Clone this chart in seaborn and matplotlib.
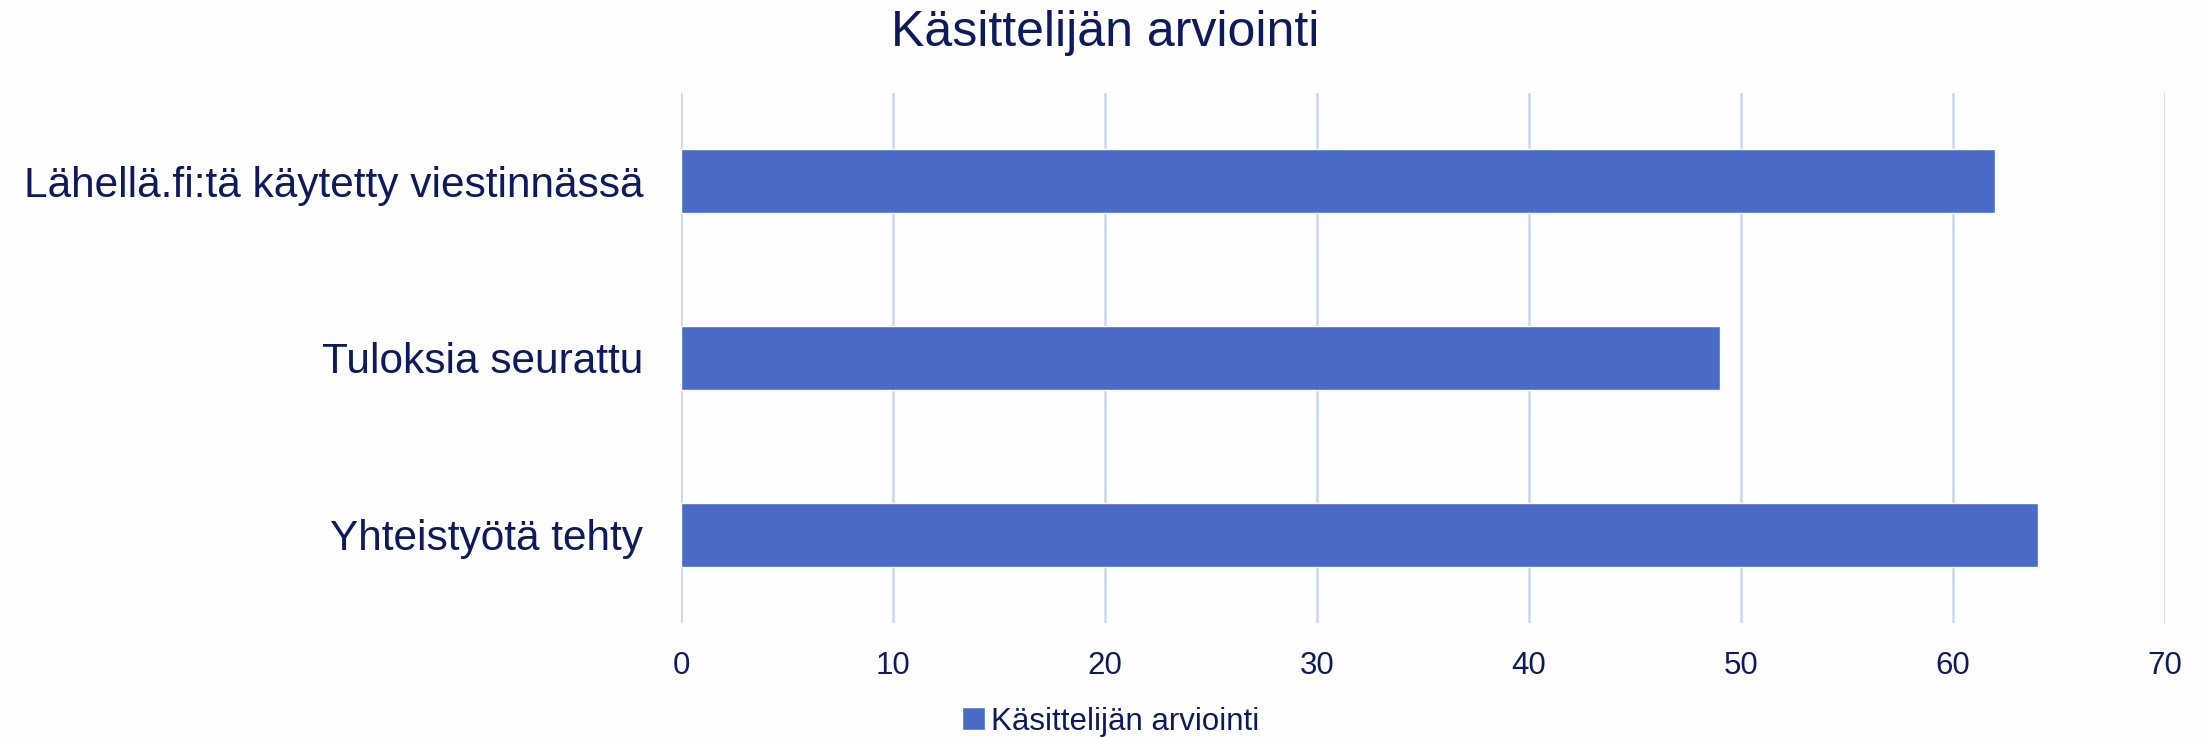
import pandas as pd
import seaborn as sns
import matplotlib.pyplot as plt

# Chart data
categories = ["Lähellä.fi:tä käytetty viestinnässä", "Tuloksia seurattu", "Yhteistyötä tehty"]
values = [62, 49, 64]
series_name = "Käsittelijän arviointi"
x_ticks = [0, 10, 20, 30, 40, 50, 60, 70]

df = pd.DataFrame({"Kategoria": categories, "Arvo": values})

text_color = "#0d1b5e"
bar_color = "#4a6cc8"
grid_color = "#c9d5f7"

sns.set_style("white")
plt.rcParams["font.family"] = ["Liberation Sans", "DejaVu Sans"]

fig = plt.figure(figsize=(22.06, 7.37), dpi=100, facecolor="#fefefe")
ax = fig.add_axes([0.3087, 0.1547, 0.6727, 0.7191])
ax.set_facecolor("#fefefe")

sns.barplot(data=df, x="Arvo", y="Kategoria", orient="h", color=bar_color,
            width=0.362, saturation=1, label=series_name, ax=ax)

ax.set_xlim(0, 70)
ax.set_ylim(2.5, -0.5)
ax.set_xticks(x_ticks)
ax.set_xlabel("")
ax.set_ylabel("")
ax.grid(axis="x", color=grid_color, linewidth=1.8)
ax.set_axisbelow(True)
for s in ax.spines.values():
    s.set_visible(False)
ax.tick_params(axis="both", length=0)
ax.tick_params(axis="y", labelsize=30.5, pad=27, labelcolor=text_color)
ax.tick_params(axis="x", labelsize=22.5, pad=20, labelcolor=text_color)

fig.suptitle(series_name, fontsize=36, color=text_color, x=0.501, y=0.986, va="top")

fig.legend(loc="center", bbox_to_anchor=(0.5035, 0.021), frameon=False,
           fontsize=22.5, labelcolor=text_color, handlelength=0.75, handleheight=0.75,
           handletextpad=0.2, borderpad=0)
if ax.get_legend() is not None:
    ax.get_legend().remove()

fig.savefig("out.png", dpi=100, facecolor=fig.get_facecolor())
